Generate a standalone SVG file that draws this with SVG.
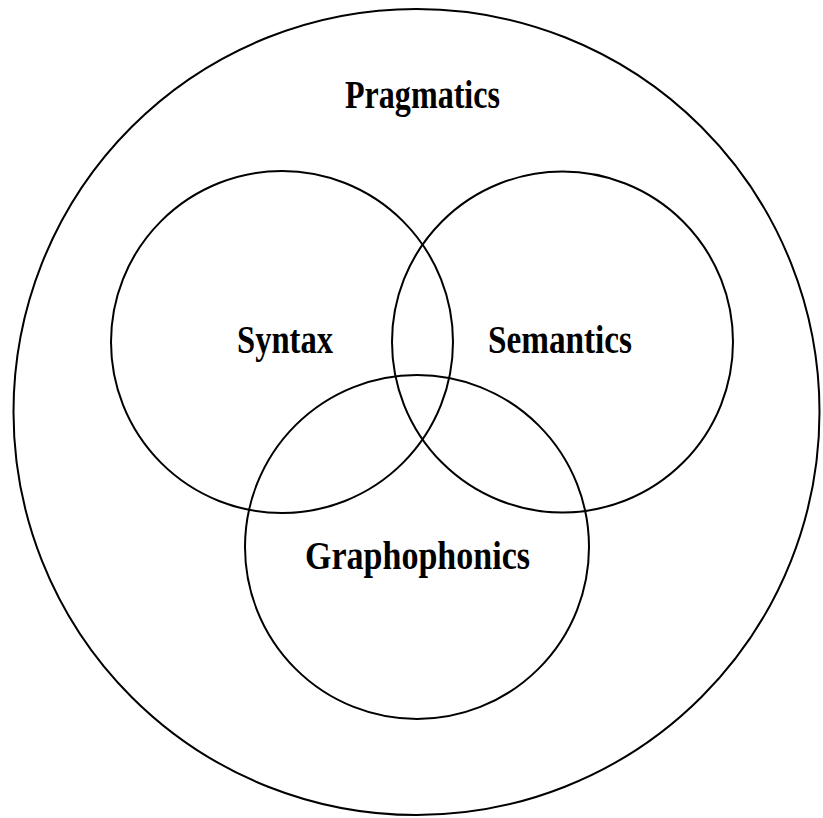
<svg xmlns="http://www.w3.org/2000/svg" width="823" height="818" viewBox="0 0 823 818">
<style>
  .c { fill: none; stroke: #000; stroke-width: 2; }
  .t { font-family: "Liberation Serif", "Times New Roman", serif; font-weight: bold; font-size: 39px; fill: #000; }
</style>
<rect width="823" height="818" fill="#fff"/>
<g id="pragmatics">
  <circle class="c" cx="416.5" cy="412" r="403"/>
  <text class="t" x="345" y="108" textLength="155" lengthAdjust="spacingAndGlyphs">Pragmatics</text>
</g>
<g id="syntax">
  <circle class="c" cx="282" cy="342" r="171"/>
  <text class="t" x="237" y="353" textLength="96" lengthAdjust="spacingAndGlyphs">Syntax</text>
</g>
<g id="semantics">
  <circle class="c" cx="562.5" cy="342" r="170.5"/>
  <text class="t" x="488" y="353" textLength="144" lengthAdjust="spacingAndGlyphs">Semantics</text>
</g>
<g id="graphophonics">
  <circle class="c" cx="417" cy="547" r="172"/>
  <text class="t" x="305" y="569" textLength="225" lengthAdjust="spacingAndGlyphs">Graphophonics</text>
</g>
<g id="connectors"></g>
</svg>
